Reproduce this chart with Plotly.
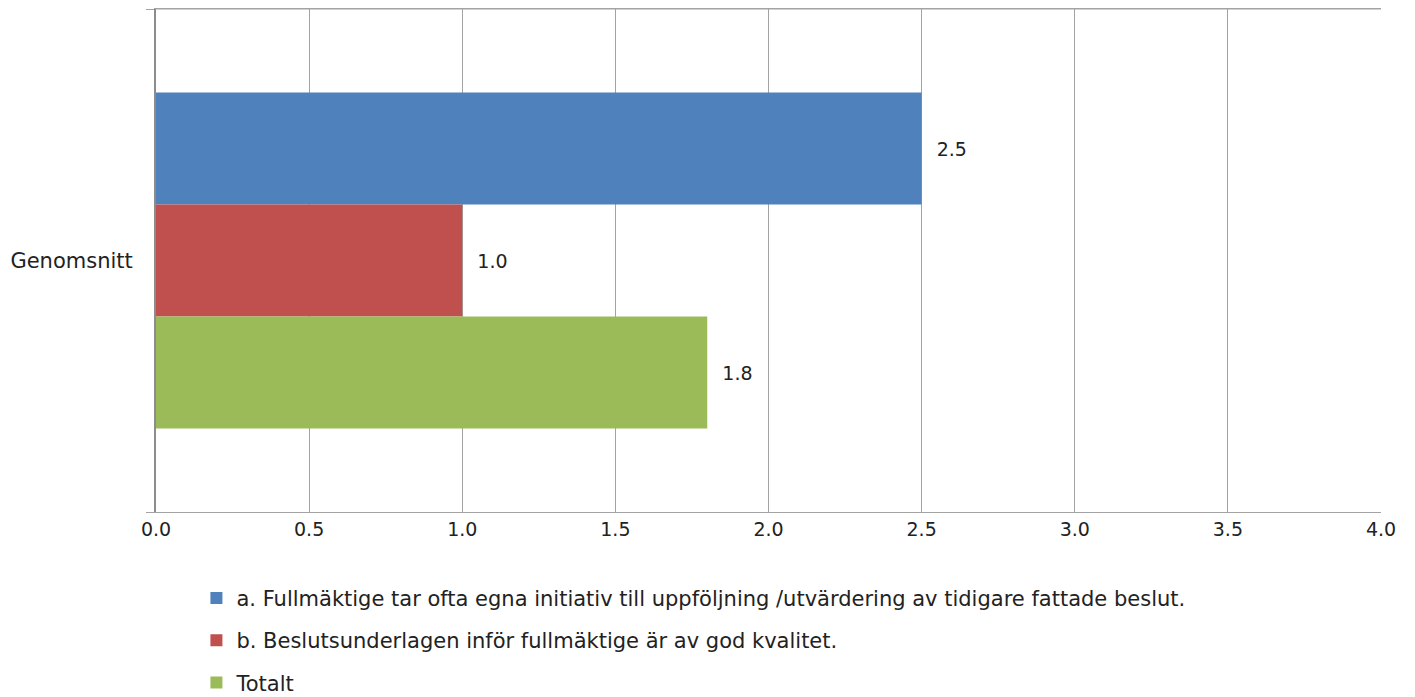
import plotly.graph_objects as go

categories = ["Genomsnitt"]
series_names = [
    "a. Fullmäktige tar ofta egna initiativ till uppföljning /utvärdering av tidigare fattade beslut.",
    "b. Beslutsunderlagen inför fullmäktige är av god kvalitet.",
    "Totalt",
]
series_values = [[2.5], [1.0], [1.8]]
series_colors = ["#4F81BD", "#C0504D", "#9BBB59"]
x_ticks = [0.0, 0.5, 1.0, 1.5, 2.0, 2.5, 3.0, 3.5, 4.0]

FONT = "DejaVu Sans"
TXT = "#222222"
fig = go.Figure()
for i, (name, vals, col) in enumerate(zip(series_names, series_values, series_colors)):
    fig.add_trace(go.Bar(
        y=categories, x=vals, name=name, orientation="h",
        marker=dict(color=col, line=dict(width=0)),
        text=[f"{v:.1f}" for v in vals],
        texttemplate="  %{text}",
        textposition="outside",
        textfont=dict(family=FONT, size=19, color=TXT),
        cliponaxis=False,
        legendgroup=f"g{i}",
    ))

fig.update_layout(
    width=1415, height=697,
    margin=dict(l=156, r=34, t=9, b=185, pad=0, autoexpand=False),
    paper_bgcolor="white", plot_bgcolor="white",
    barmode="group", bargap=0.332, bargroupgap=0,
    font=dict(family=FONT, size=21, color=TXT),
    showlegend=True,
    legend=dict(
        orientation="v", x=0.033, xanchor="left",
        yref="container", y=0.171, yanchor="top",
        traceorder="grouped", tracegroupgap=12,
        font=dict(family=FONT, size=21, color=TXT),
        bgcolor="rgba(0,0,0,0)",
    ),
    xaxis=dict(
        range=[0, 4.0], tickvals=x_ticks, ticktext=[f"{t:.1f}" for t in x_ticks],
        showgrid=True, gridcolor="#a3a3a3", gridwidth=1,
        showline=True, linecolor="#a3a3a3", mirror=True, linewidth=1,
        ticks="", zeroline=False, fixedrange=True,
        tickfont=dict(family=FONT, size=19, color=TXT),
    ),
    yaxis=dict(
        autorange="reversed", showgrid=False, showline=True, linecolor="#8c8c8c",
        linewidth=2, mirror=False, ticks="outside", ticklen=8, tickcolor="#a3a3a3",
        tickson="boundaries", zeroline=False, fixedrange=True,
        tickfont=dict(family=FONT, size=21, color=TXT),
        ticklabelstandoff=17,
    ),
)
fig.add_shape(type="line", xref="paper", yref="paper", x0=0, x1=1, y0=1, y1=1,
              line=dict(color="#a3a3a3", width=1))

fig.write_html(
    "out.html",
    config={"displayModeBar": False},
    post_script="document.body.style.margin='0';document.body.style.padding='0';",
)
